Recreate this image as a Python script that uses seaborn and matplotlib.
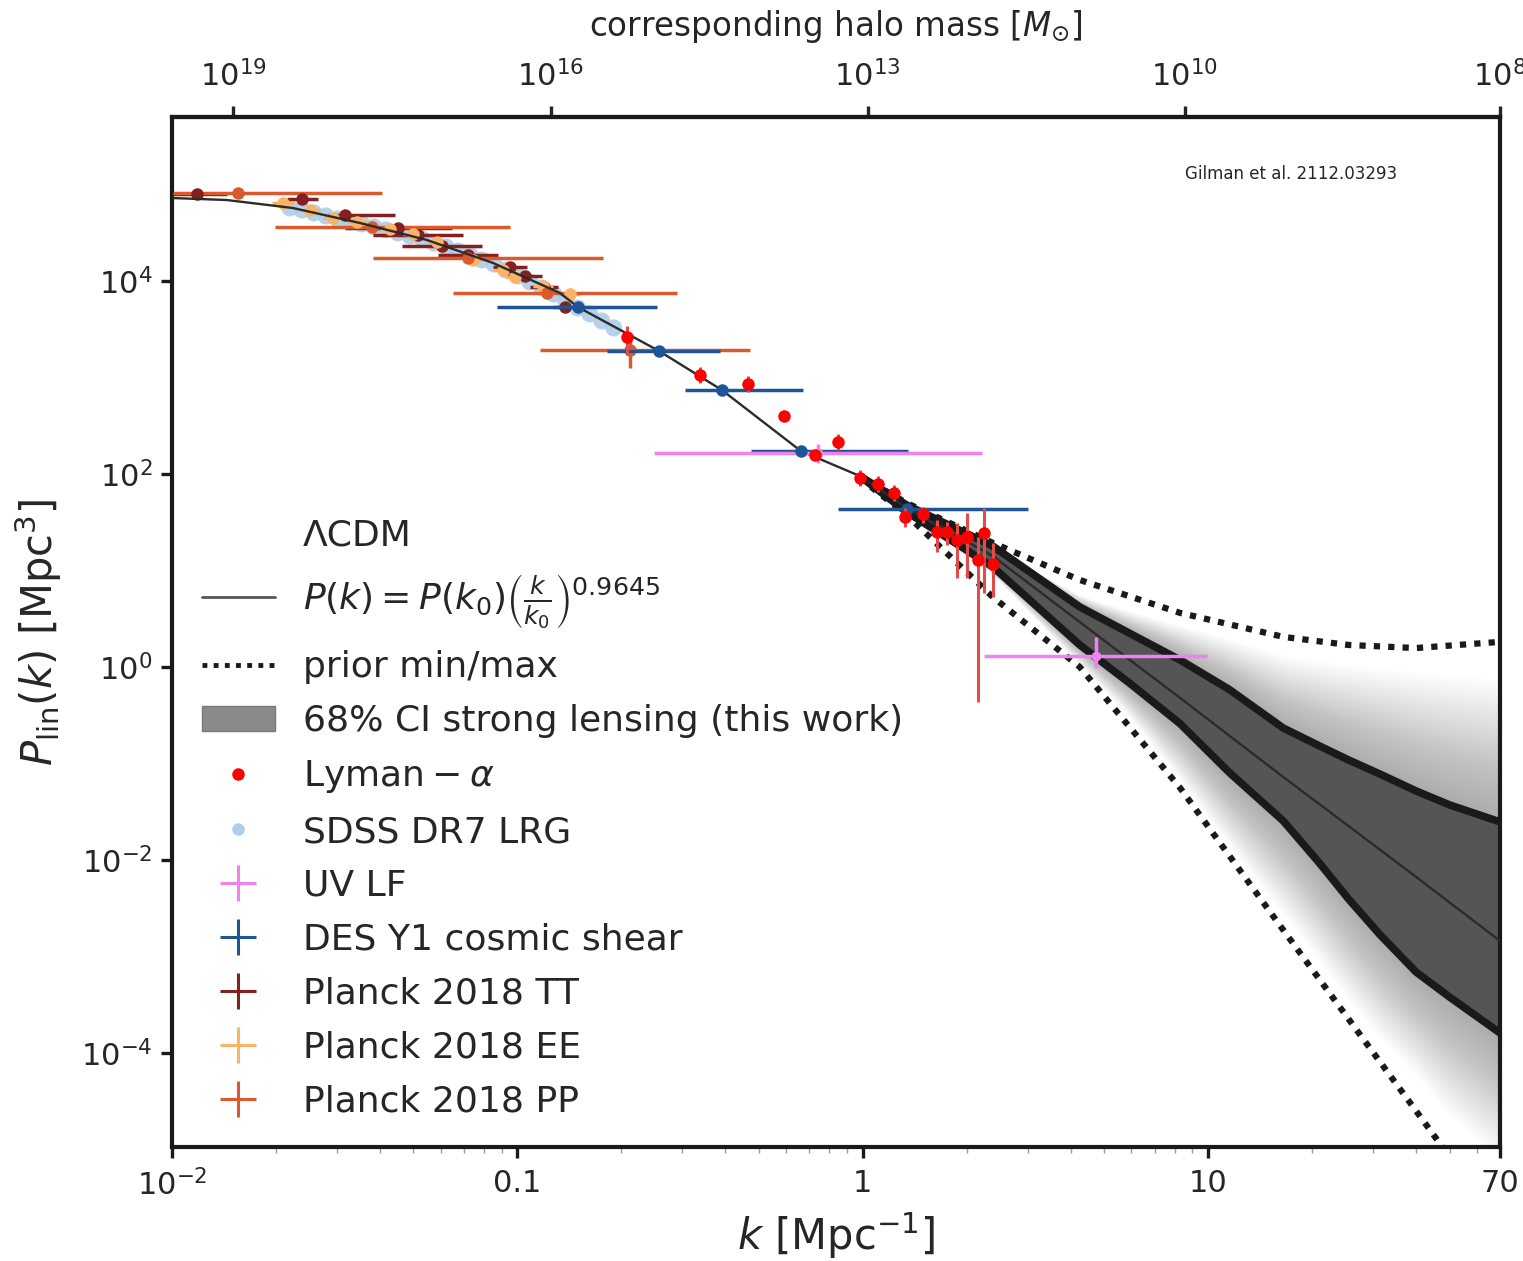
import numpy as np
import matplotlib
matplotlib.use("Agg")
import matplotlib.pyplot as plt
import seaborn as sns
from matplotlib.lines import Line2D
from matplotlib.patches import Patch
from matplotlib.ticker import FixedLocator, NullLocator, LogLocator, NullFormatter

# ---------------- data ----------------
# LCDM linear power spectrum (black curve, continues as thin line in the band)
lcdm_k = [0.0100, 0.01442, 0.0224, 0.0350, 0.0547, 0.0849, 0.1327, 0.1496, 0.257,
          0.391, 0.662, 0.980, 1.34, 2.38, 4.25, 8.3, 16.5, 25.5, 40.0, 70.0]
lcdm_P = [72400, 69000, 57000, 39900, 26600, 15400, 7520, 5380, 1884,
          741, 173, 95.3, 44.5, 14.1, 2.92, 0.477, 0.0724, 0.0225, 0.00667, 0.00145]

# 68% CI strong lensing band
band_k = [0.98, 1.34, 2.38, 4.25, 5.93, 8.3, 11.5, 16.5, 21.0, 25.5, 31.4, 40.0, 50.0, 70.0]
band_hi = [95.3, 47.7, 17.9, 4.19, 2.23, 1.18, 0.586, 0.233, 0.152, 0.1087, 0.0778,
           0.0519, 0.0372, 0.0248]
band_lo = [95.3, 40.4, 10.9, 1.69, 0.678, 0.258, 0.0810, 0.0254, 0.00930, 0.00394,
           0.00169, 0.00069, 0.000380, 0.000161]
# faint outer spread of the posterior draws
fan_hi = [95.3, 50.0, 17.1, 5.57, 3.80, 2.72, 1.95, 1.33, 1.15, 1.05, 0.960, 0.887,
          0.820, 0.733]
fan_lo = [95.3, 38.5, 8.98, 1.05, 0.300, 0.0675, 0.0140, 0.00269, 0.00090, 3.54e-4,
          1.45e-4, 5.92e-5, 2.30e-5, 7.78e-6]
# prior min / max
prior_k = [0.98, 1.34, 2.38, 4.25, 8.3, 16.5, 25.5, 40.0, 70.0]
prior_max = [95.3, 50.0, 19.3, 7.97, 3.63, 2.05, 1.69, 1.57, 1.82]
prior_min = [91.0, 37.6, 5.31, 1.0, 0.0557, 0.00188, 2.25e-4, 2.51e-5, 1.61e-6]

# Lyman-alpha
lya_k = [0.2075, 0.337, 0.465, 0.590, 0.726, 0.848, 0.980, 1.104, 1.23, 1.324,
         1.49, 1.64, 1.75, 1.87, 2.0, 2.15, 2.24, 2.39]
lya_P = [2630, 1062, 857, 399, 157, 215, 91, 78.8, 63.5, 35.8,
         38.5, 25.1, 25.1, 20.7, 22.2, 12.9, 24.5, 11.7]
lya_lo = [1710, 877, 708, 370, 140, 177, 75, 65, 52.5, 28.2,
          31.0, 15.6, 18.4, 8.36, 8.36, 0.434, 5.85, 5.31]
lya_hi = [3377, 1285, 1037, 430, 175, 260, 110, 95.3, 76.9, 44.5,
          45.5, 33.4, 31.8, 31.0, 39.4, 22.2, 44.5, 19.3]

# SDSS DR7 LRG
sdss_k = [0.02195, 0.02378, 0.02576, 0.02791, 0.03023, 0.03275, 0.03548, 0.03843,
          0.04164, 0.04510, 0.04886, 0.05293, 0.05734, 0.06211, 0.06729, 0.07289,
          0.07897, 0.08551, 0.09265, 0.1003, 0.1087, 0.1177, 0.1275, 0.1381,
          0.1496, 0.1622, 0.1757, 0.1902]
sdss_P = [57080, 54430, 50670, 47170, 43910, 40880, 38970, 36280,
          33780, 31440, 29270, 27250, 24770, 22510, 20460, 18600,
          16500, 15010, 13000, 11270, 9760, 8460, 7330, 6200,
          5250, 4550, 3850, 3260]

# UV luminosity function
uv_k = [0.741, 4.75]
uv_P = [165, 1.30]
uv_klo = [0.248, 2.25]
uv_khi = [2.22, 9.9]
uv_Plo = [130, 0.977]
uv_Phi = [205, 2.05]

# DES Y1 cosmic shear
des_k = [0.1496, 0.257, 0.391, 0.662, 1.34]
des_P = [5380, 1884, 741, 173, 43.4]
des_klo = [0.0873, 0.1815, 0.305, 0.474, 0.848]
des_khi = [0.2535, 0.385, 0.670, 1.349, 3.0]

# Planck 2018 TT
tt_k = [0.0118, 0.0238, 0.0317, 0.0451, 0.0515, 0.0604, 0.0719, 0.0951, 0.1052, 0.1194, 0.1371]
tt_P = [79800, 70800, 48300, 35400, 30000, 23100, 18600, 14000, 11300, 8670, 5380]
tt_klo = [0.01007, 0.0215, 0.0283, 0.0317, 0.0382, 0.0464, 0.0589, 0.0849, 0.0933, 0.1086, 0.1267]
tt_khi = [0.01442, 0.0265, 0.0442, 0.0646, 0.0695, 0.0789, 0.0879, 0.1064, 0.1178, 0.1309, 0.1486]

# Planck 2018 EE
ee_k = [0.02094, 0.02506, 0.02924, 0.0343, 0.0427, 0.0499, 0.0585, 0.0743, 0.0908, 0.0984, 0.1186, 0.1419]
ee_P = [64300, 54500, 45000, 40800, 34600, 30700, 25400, 16500, 13000, 11000, 8880, 7330]
ee_klo = [0.0195, 0.0235, 0.0273, 0.0321, 0.0399, 0.0466, 0.0547, 0.0694, 0.0849, 0.092, 0.111, 0.1326]
ee_khi = [0.0225, 0.0268, 0.0313, 0.0367, 0.0457, 0.0534, 0.0626, 0.0795, 0.0971, 0.1053, 0.127, 0.152]
ee_Plo = [61500, 52000, 42800, 38800, 32800, 29000, 23800, 15300, 12000, 10100, 8100, 6300]
ee_Phi = [67200, 57100, 47300, 42900, 36500, 32500, 27100, 17800, 14100, 12000, 9700, 8500]

# Planck 2018 PP
pp_k = [0.01552, 0.0379, 0.0719, 0.1216, 0.212]
pp_P = [81600, 36300, 17300, 7520, 1928]
pp_klo = [0.01007, 0.01986, 0.0382, 0.0650, 0.116]
pp_khi = [0.0405, 0.0951, 0.1766, 0.290, 0.471]
pp_Plo = [81600, 36300, 17300, 7520, 1254]
pp_Phi = [81600, 36300, 17300, 7520, 2450]

# axes ticks
x_ticks = [0.01, 0.1, 1, 10, 70]
x_ticklabels = ["$10^{-2}$", "0.1", "1", "10", "70"]
y_ticks = [1e-4, 1e-2, 1e0, 1e2, 1e4]
mass_tick_k = [0.01502, 0.125, 1.034, 8.55, 70.0]
mass_labels = ["$10^{19}$", "$10^{16}$", "$10^{13}$", "$10^{10}$", "$10^{8}$"]

# colours
C_LYA = "#ff0000"
C_LYA_ERR = "#e34a4a"
C_SDSS = "#aecde8"
C_UV = "#ee82ee"
C_DES = "#1f5596"
C_TT = "#852020"
C_EE = "#fbb366"
C_PP = "#da5a2e"

# ---------------- figure ----------------
sns.set_theme(style="white")
plt.rcParams["font.family"] = ["DejaVu Sans"]
plt.rcParams["mathtext.fontset"] = "dejavusans"

fig = plt.figure(figsize=(15.23, 12.61), dpi=100)
ax = fig.add_axes([0.1129, 0.0904, 0.8720, 0.8168])
ax.set_xscale("log")
ax.set_yscale("log")

bk = np.array(band_k)
lo_b, hi_b = np.log10(band_lo), np.log10(band_hi)
lo_f, hi_f = np.log10(fan_lo), np.log10(fan_hi)
# faint spread of posterior draws
for t in np.linspace(1.0, 0.03, 32):
    ax.fill_between(bk, 10 ** (lo_b * (1 - t) + lo_f * t), 10 ** (hi_b * (1 - t) + hi_f * t),
                    color="k", alpha=0.013, lw=0, zorder=1)
ax.fill_between(bk, band_lo, band_hi, color="#555555", lw=0, zorder=2)
ax.plot(bk, band_hi, color="k", lw=5.5, zorder=3, solid_capstyle="butt", solid_joinstyle="round")
ax.plot(bk, band_lo, color="k", lw=5.5, zorder=3, solid_capstyle="butt", solid_joinstyle="round")

# priors
ax.plot(prior_k, prior_max, color="k", lw=4.5, ls=(0, (1, 1.3)), zorder=4)
ax.plot(prior_k, prior_min, color="k", lw=4.5, ls=(0, (1, 1.3)), zorder=4)

# SDSS
sns.scatterplot(x=sdss_k, y=sdss_P, color=C_SDSS, s=150, edgecolor="none", alpha=0.9,
                ax=ax, zorder=3, legend=False)

# Planck
eb = dict(fmt="o", capsize=0, elinewidth=2.5, ms=9, mew=0)
P = np.array
ax.errorbar(tt_k, tt_P, xerr=[P(tt_k) - P(tt_klo), P(tt_khi) - P(tt_k)], color=C_TT, zorder=4, **eb)
ax.errorbar(ee_k, ee_P, xerr=[P(ee_k) - P(ee_klo), P(ee_khi) - P(ee_k)],
            yerr=[P(ee_P) - P(ee_Plo), P(ee_Phi) - P(ee_P)], color=C_EE, zorder=4, **eb)
ax.errorbar(pp_k, pp_P, xerr=[P(pp_k) - P(pp_klo), P(pp_khi) - P(pp_k)],
            yerr=[P(pp_P) - P(pp_Plo), P(pp_Phi) - P(pp_P)], color=C_PP, zorder=4, **eb)

# LCDM curve
sns.lineplot(x=lcdm_k, y=lcdm_P, color="#2b2b2b", lw=1.7, ax=ax, sort=False,
             estimator=None, zorder=5)

# DES, UV LF, Lyman alpha
ax.errorbar(des_k, des_P, xerr=[P(des_k) - P(des_klo), P(des_khi) - P(des_k)],
            color=C_DES, zorder=6, **eb)
ax.errorbar(uv_k, uv_P, xerr=[P(uv_k) - P(uv_klo), P(uv_khi) - P(uv_k)],
            yerr=[P(uv_P) - P(uv_Plo), P(uv_Phi) - P(uv_P)], color=C_UV,
            fmt="o", ms=7, mew=0, elinewidth=2.5, capsize=0, zorder=6)
ax.errorbar(lya_k, lya_P, yerr=[P(lya_P) - P(lya_lo), P(lya_hi) - P(lya_P)],
            fmt="o", color=C_LYA, ecolor=C_LYA_ERR, ms=9, mew=0, elinewidth=2.2,
            capsize=0, zorder=7)

# axes formatting
ax.set_xlim(0.01, 70)
ax.set_ylim(1.06e-5, 5.0e5)
ax.xaxis.set_major_locator(FixedLocator(x_ticks))
ax.set_xticklabels(x_ticklabels)
ax.xaxis.set_minor_locator(LogLocator(subs=np.arange(2, 10)))
ax.xaxis.set_minor_formatter(NullFormatter())
ax.yaxis.set_major_locator(FixedLocator(y_ticks))
ax.yaxis.set_minor_locator(NullLocator())
for s in ax.spines.values():
    s.set_linewidth(3)
    s.set_color("k")
ax.tick_params(which="major", direction="out", length=8, width=2.4, labelsize=22,
               color="k", pad=8, bottom=True, left=True, top=False, right=False)
ax.tick_params(which="minor", direction="out", length=4, width=1, color="#999999",
               bottom=True, top=False)
ax.tick_params(axis="y", pad=6)
ax.set_xlabel(r"$k\ [\mathrm{Mpc}^{-1}]$", fontsize=30, labelpad=6)
ax.set_ylabel(r"$P_{\mathrm{lin}}(k)\ [\mathrm{Mpc}^{3}]$", fontsize=30, labelpad=12)

sec = ax.secondary_xaxis("top")
sec.xaxis.set_major_locator(FixedLocator(mass_tick_k))
sec.set_xticklabels(mass_labels)
sec.xaxis.set_minor_locator(NullLocator())
sec.tick_params(direction="out", length=8, width=2.4, labelsize=22, pad=10)
sec.spines["top"].set_linewidth(3)
sec.set_xlabel(r"corresponding halo mass $[M_{\odot}]$", fontsize=23.5, labelpad=17)

fig.text(1185 / 1523, 1 - 174 / 1261, "Gilman et al. 2112.03293", fontsize=12,
         ha="left", va="center")

# legend
handles = [
    Line2D([], [], color="none", lw=0),
    Line2D([], [], color="#555555", lw=2),
    Line2D([], [], color="k", lw=3.5, ls=(0, (1, 1.3))),
    Patch(facecolor="#8a8a8a", edgecolor="#7a7a7a"),
    Line2D([], [], ls="none", marker="o", color=C_LYA, ms=9, mew=0),
    Line2D([], [], ls="none", marker="o", color=C_SDSS, ms=9, mew=0),
    Line2D([], [], ls="none", marker="+", color=C_UV, ms=26, mew=2.2),
    Line2D([], [], ls="none", marker="+", color=C_DES, ms=26, mew=2.2),
    Line2D([], [], ls="none", marker="+", color=C_TT, ms=26, mew=2.2),
    Line2D([], [], ls="none", marker="+", color=C_EE, ms=26, mew=2.2),
    Line2D([], [], ls="none", marker="+", color=C_PP, ms=26, mew=2.2),
]
labels = [
    "ΛCDM",
    r"$P(k) = P(k_0)\left(\frac{k}{k_0}\right)^{0.9645}$",
    "prior min/max",
    "68% CI strong lensing (this work)",
    r"$\mathrm{Lyman}-\alpha$",
    "SDSS DR7 LRG",
    "UV LF",
    "DES Y1 cosmic shear",
    "Planck 2018 TT",
    "Planck 2018 EE",
    "Planck 2018 PP",
]
ax.legend(handles, labels, loc="upper left", bbox_to_anchor=(0.012, 0.624),
          frameon=False, fontsize=26, handlelength=2.0, handletextpad=0.78,
          labelspacing=0.55, borderaxespad=0)

fig.savefig("out.png", dpi=100)
